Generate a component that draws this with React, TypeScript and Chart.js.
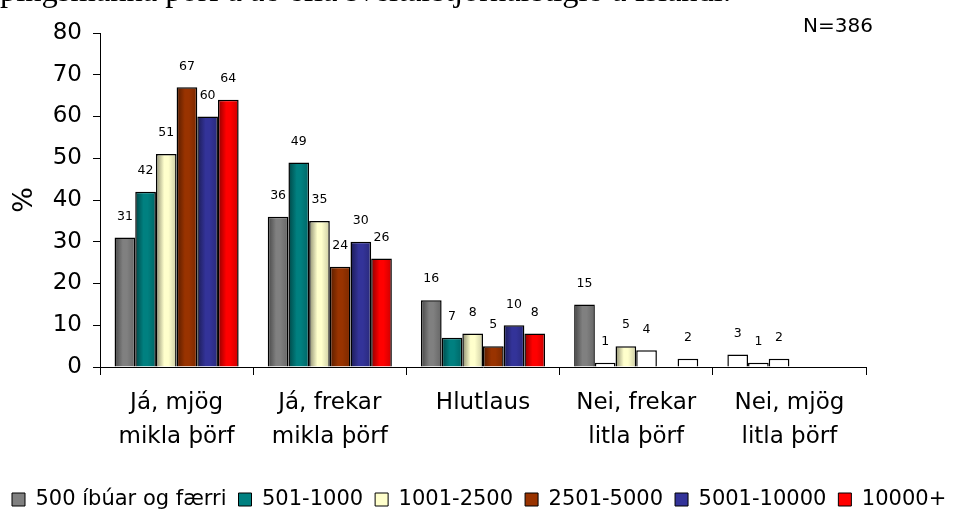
import React, { useEffect, useRef } from "react";
import { Chart, registerables } from "chart.js";

Chart.register(...registerables);

const categories = [
  ["Já, mjög", "mikla þörf"],
  ["Já, frekar", "mikla þörf"],
  ["Hlutlaus"],
  ["Nei, frekar", "litla þörf"],
  ["Nei, mjög", "litla þörf"],
];
const seriesNames = ["500 íbúar og færri", "501-1000", "1001-2500", "2501-5000", "5001-10000", "10000+"];
const s500 = [31, 36, 16, 15, 3];
const s501 = [42, 49, 7, 1, 1];
const s1001 = [51, 35, 8, 5, 2];
const s2501 = [67, 24, 5, 4, null];
const s5001 = [60, 30, 10, null, null];
const s10000 = [64, 26, 8, 2, null];
const seriesValues = [s500, s501, s1001, s2501, s5001, s10000];
const yMin = 0;
const yMax = 80;
const yStep = 10;
const titleText = "þingsmanna þörf á að efla sveitarstjórnarstigið á Íslandi.";
const nText = "N=386";

const colors = ["#808080", "#008080", "#FFFFCC", "#993300", "#333399", "#FF0000"];
// bars drawn without fill colour (white) in the reference: dataset index -> category indices
const plainFill: Record<number, number[]> = { 0: [4], 1: [3, 4], 2: [4], 3: [3], 5: [3] };

const FONT = "'DejaVu Sans', sans-serif";

function shade(hex: string, f: number) {
  const n = parseInt(hex.slice(1), 16);
  const r = Math.round(((n >> 16) & 255) * f);
  const g = Math.round(((n >> 8) & 255) * f);
  const b = Math.round((n & 255) * f);
  return `rgb(${r},${g},${b})`;
}

const isPlain = (di: number, i: number) => (plainFill[di] || []).includes(i);

const gradientPlugin = {
  id: "barGradient",
  beforeDatasetsDraw(chart: any) {
    const c = chart.ctx;
    chart.data.datasets.forEach((_ds: any, di: number) => {
      const meta = chart.getDatasetMeta(di);
      meta.data.forEach((el: any, i: number) => {
        if (isPlain(di, i)) {
          el.options.backgroundColor = "#FFFFFF";
          return;
        }
        const x = el.x;
        const w = el.width;
        if (!isFinite(x) || !w) return;
        const base = colors[di];
        const g = c.createLinearGradient(x - w / 2, 0, x + w / 2, 0);
        g.addColorStop(0, shade(base, 0.55));
        g.addColorStop(0.4, base);
        g.addColorStop(0.6, base);
        g.addColorStop(1, shade(base, 0.8));
        el.options.backgroundColor = g;
      });
    });
  },
};

const labelPlugin = {
  id: "valueLabels",
  afterDatasetsDraw(chart: any) {
    const c = chart.ctx;
    c.save();
    c.font = `12.5px ${FONT}`;
    c.fillStyle = "#000";
    c.textAlign = "center";
    c.textBaseline = "middle";
    chart.data.datasets.forEach((ds: any, di: number) => {
      const meta = chart.getDatasetMeta(di);
      meta.data.forEach((el: any, i: number) => {
        const v = ds.data[i];
        if (v === null || v === undefined) return;
        c.fillText(String(v), el.x, el.y - 21);
      });
    });
    c.restore();
  },
};

export default function App() {
  const ref = useRef<HTMLCanvasElement>(null);

  useEffect(() => {
    if (!ref.current) return;
    const chart = new Chart(ref.current, {
      type: "bar",
      data: {
        labels: categories,
        datasets: seriesNames.map((name, di) => ({
          label: name,
          data: seriesValues[di],
          backgroundColor: (ctx: any) => (isPlain(di, ctx.dataIndex) ? "#FFFFFF" : colors[di]),
          borderColor: "#000",
          borderWidth: 1.5,
          categoryPercentage: 0.81,
          barPercentage: 1,
        })),
      },
      options: {
        animation: false,
        responsive: true,
        maintainAspectRatio: false,
        layout: { padding: { left: 0, right: 0, top: 33, bottom: -9 } },
        plugins: {
          tooltip: { enabled: false },
          legend: {
            position: "bottom",
            align: "start",
            labels: {
              boxWidth: 13,
              boxHeight: 13,
              padding: 12,
              color: "#000",
              font: { family: FONT, size: 21 },
              generateLabels: () =>
                seriesNames.map((name, di) => ({
                  text: name,
                  fillStyle: colors[di],
                  strokeStyle: "#000",
                  lineWidth: 1,
                  hidden: false,
                  datasetIndex: di,
                })),
            },
          },
        },
        scales: {
          x: {
            grid: { display: true, drawOnChartArea: false, drawTicks: true, tickLength: 8, color: "#000", offset: true },
            border: { display: true, color: "#000", width: 1 },
            ticks: {
              color: "#000",
              padding: 11,
              font: { family: FONT, size: 23, lineHeight: 34 / 23 },
              maxRotation: 0,
              autoSkip: false,
            },
            afterFit: (scale: any) => {
              scale.height = 110;
            },
          },
          y: {
            min: yMin,
            max: yMax,
            grid: { display: true, drawOnChartArea: false, drawTicks: true, tickLength: 7, color: "#000" },
            border: { display: true, color: "#000", width: 1 },
            ticks: { stepSize: yStep, color: "#000", padding: 11, font: { family: FONT, size: 23 } },
            title: { display: true, text: "%", color: "#000", font: { family: FONT, size: 27 }, padding: { top: 9, bottom: 0 } },
            afterFit: (scale: any) => {
              scale.width = 100;
            },
          },
          spacer: {
            type: "linear",
            position: "right",
            display: true,
            grid: { display: false, drawTicks: false },
            border: { display: false },
            ticks: { display: false },
            afterFit: (scale: any) => {
              scale.width = 95;
            },
          },
        },
      },
      plugins: [gradientPlugin, labelPlugin],
    });
    return () => chart.destroy();
  }, []);

  return (
    <div style={{ position: "fixed", left: 0, top: 0, width: 961, height: 511, background: "#fff", overflow: "hidden" }}>
      <div style={{ position: "absolute", left: 0, top: 0, width: 961, height: 12, overflow: "hidden" }}>
        <div
          style={{
            position: "absolute",
            left: 0,
            top: -26,
            whiteSpace: "nowrap",
            fontFamily: "'Liberation Serif', 'Times New Roman', serif",
            fontSize: 32.5,
            lineHeight: "32.5px",
            color: "#000",
          }}
        >
          {titleText}
        </div>
      </div>
      <div
        style={{
          position: "absolute",
          left: 803,
          top: 13,
          fontFamily: FONT,
          fontSize: 20,
          lineHeight: "24px",
          color: "#000",
        }}
      >
        {nText}
      </div>
      <canvas ref={ref} />
    </div>
  );
}
